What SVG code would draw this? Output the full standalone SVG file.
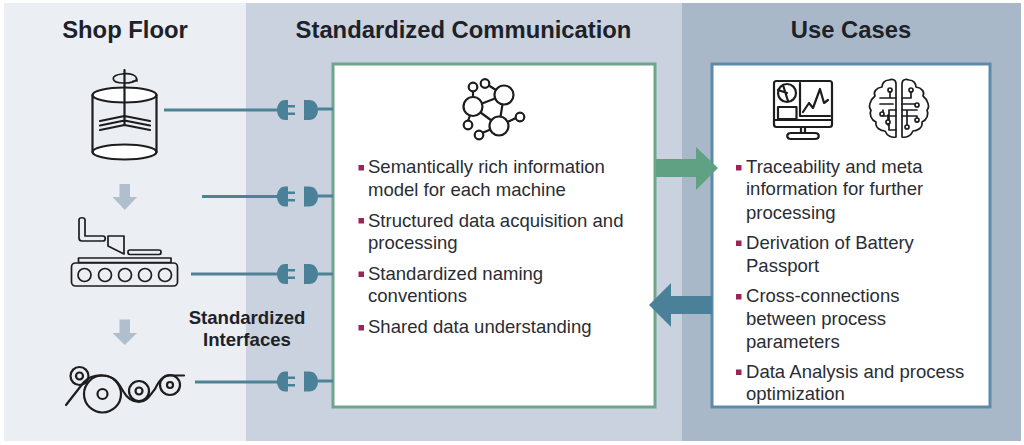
<svg xmlns="http://www.w3.org/2000/svg" xmlns:xlink="http://www.w3.org/1999/xlink" width="1024" height="445" viewBox="0 0 1024 445">
<style>
text{font-family:"Liberation Sans",Arial,sans-serif;fill:#1d2229}
.h{font-size:23.8px;font-weight:bold;text-anchor:middle}
.s{font-size:18.6px;font-weight:bold;text-anchor:middle}
.b{font-size:18.55px;fill:#2a2d33}
.bu{fill:#9a2556}
.ic{fill:none;stroke:#1d1d1f;stroke-width:2.2;stroke-linejoin:round;stroke-linecap:round}
.th{stroke-width:1.7}
.w{fill:#fff}
.f{fill:#fff}
.ln{fill:none;stroke:#4f8296;stroke-width:3.2}
.pl{fill:#4a8198}
.dn{fill:#b0bfcd}
</style>
<defs>
<g id="plug"><path class="pl" d="M288 -10H285C280 -10 277 -5 277 0C277 5 280 10 285 10H288V5H295V2.500H288V-2.500H295V-5H288Z"/><path class="pl" d="M304 -10H309C315 -10 318 -5 318 0C318 5 315 10 309 10H304Z"/></g>
</defs>
<rect width="1024" height="445" fill="#fff"/>
<g id="panels">
<rect x="4" y="3" width="242" height="438" fill="#ebeef2"/>
<rect x="246" y="3" width="436" height="438" fill="#c9d2de"/>
<rect x="682" y="3" width="339" height="438" fill="#a9b8c9"/>
</g>
<text class="h" x="125" y="38">Shop Floor</text>
<text class="h" x="463.500" y="38">Standardized Communication</text>
<text class="h" x="851" y="38">Use Cases</text>
<g id="tank" class="ic">
<ellipse class="w" cx="124.500" cy="95" rx="32" ry="7.500"/>
<ellipse class="w" cx="124.500" cy="152" rx="32" ry="7.500"/>
<path d="M92.500 95V152M156.500 95V152M124.500 70V125M100 121L124.500 116L150 121M100 125.500L124.500 120.500L150 125.500M100 130L124.500 125L150 130"/>
<path class="th" d="M122 74C110 75 110 83 124 83C131 83 136 81 137 79M122 74C127 73 133 74 135 76M133 81L137 81L136 77"/>
</g>
<path class="dn" d="M119.500 184H130V197H137L124.800 210L112.500 197H119.500Z"/>
<g id="machine" class="ic th">
<path d="M79 220C79 217 85 217 85 220V236H103C106 236 106 241 103 241H82C80 241 79 240 79 238Z"/>
<path d="M108 236H124V254L108 246Z"/>
<rect x="128" y="250" width="33" height="4.500" rx="2"/>
<path d="M78.500 258H171V262.500H78.500Z"/>
<rect x="71.500" y="263" width="106" height="23" rx="4"/>
<circle cx="84.500" cy="275" r="6.500"/><circle cx="105" cy="275" r="6.500"/><circle cx="125" cy="275" r="6.500"/><circle cx="145" cy="275" r="6.500"/><circle cx="165" cy="275" r="6.500"/>
</g>
<path class="dn" d="M119.500 319.500H130V333H137L124.800 345L112.500 333H119.500Z"/>
<g id="rollers" class="ic">
<circle cx="79.500" cy="376" r="9"/><circle cx="79.500" cy="376" r="3.500"/>
<circle cx="102.500" cy="394" r="18.500"/><circle cx="102.500" cy="394" r="5"/>
<circle cx="139" cy="391" r="10"/><circle cx="139" cy="391" r="3.500"/>
<circle cx="170" cy="385" r="10"/><circle cx="170" cy="385" r="3"/>
<path d="M66 405L84 382C89 377 96 375 103 375.500C115 376 119 384 123 391C127 398 133 402 139 402C147 402 150 395 155 389C159 381 163 375 171 375.500H184"/>
</g>
<text class="s" x="247" y="324">Standardized</text>
<text class="s" x="247" y="346">Interfaces</text>
<g id="communication">
<rect x="333" y="64" width="322" height="343" fill="#fff" stroke="#6ea58b" stroke-width="3"/>
<g class="ic">
<path d="M473 107L473 91M473 107L504 95L499 126L473 107M504 95L488 85M473 107L468 121M499 126L482 133M499 126L516 118"/>
<circle class="f" cx="473" cy="106.500" r="9.500"/><circle class="f" cx="504" cy="95" r="9.500"/><circle class="f" cx="499" cy="126" r="9.500"/>
<circle class="f" cx="473" cy="87" r="4.300"/><circle class="f" cx="485" cy="83.500" r="4.300"/><circle class="f" cx="468" cy="125" r="4.300"/><circle class="f" cx="479" cy="135" r="4.300"/><circle class="f" cx="520" cy="117" r="4.300"/>
</g>
<rect class="bu" x="358.500" y="165" width="5.500" height="5.500"/>
<rect class="bu" x="358.500" y="218" width="5.500" height="5.500"/>
<rect class="bu" x="358.500" y="271.500" width="5.500" height="5.500"/>
<rect class="bu" x="358.500" y="325" width="5.500" height="5.500"/>
<text class="b" x="368" y="173">Semantically rich information</text>
<text class="b" x="368" y="195.500">model for each machine</text>
<text class="b" x="368" y="226.500">Structured data acquisition and</text>
<text class="b" x="368" y="249">processing</text>
<text class="b" x="368" y="279.500">Standardized naming</text>
<text class="b" x="368" y="302">conventions</text>
<text class="b" x="368" y="332.500">Shared data understanding</text>
</g>
<g id="use-cases">
<rect x="712" y="64" width="278" height="343" fill="#fff" stroke="#5b8ba8" stroke-width="3"/>
<g class="ic">
<rect x="774" y="81" width="58" height="46" rx="2.500"/>
<path d="M774 120H832M800 83V116H830M803 112L809 103L813 108L820 89L824 103L828 100"/>
<circle cx="787" cy="93" r="9"/><path d="M783 85L788 101M787 93L778 90"/>
<rect x="778" y="107" width="18.500" height="12"/>
<path d="M801 127V133M805 127V133M791 139C786 139 786 133 791 133H815C820 133 820 139 815 139Z"/>
</g>
<g class="ic th">
<path d="M896 84C896 79 892 79 889 80C884 80 882 84 882 87C876 88 873 92 875 96C870 100 868 107 871 110C869 114 871 120 876 122C875 128 881 131 885 131C887 136 892 138 896 137ZM902 84C902 79 906 79 909 80C914 80 916 84 916 87C922 88 925 92 923 96C928 100 930 107 927 110C929 114 927 120 922 122C923 128 917 131 913 131C911 136 906 138 902 137Z"/>
<path d="M890 97V91M880 98H896M893 104H880M883 110V116H896M888 115V125M896 110H889V130H896M902 104H916M902 98H911V91M902 110H917M907 110V127M902 116H917V122"/>
<circle class="w" cx="890" cy="90" r="2"/><circle class="w" cx="911" cy="90" r="2"/><circle class="w" cx="882" cy="114" r="2"/><circle class="w" cx="888" cy="122" r="2"/><circle class="w" cx="917" cy="105" r="2"/><circle class="w" cx="917" cy="120" r="2"/><circle class="w" cx="907" cy="127" r="2"/>
</g>
<rect class="bu" x="736" y="165" width="5.500" height="5.500"/>
<rect class="bu" x="736" y="240.500" width="5.500" height="5.500"/>
<rect class="bu" x="736" y="294" width="5.500" height="5.500"/>
<rect class="bu" x="736" y="369.500" width="5.500" height="5.500"/>
<text class="b" x="746" y="172.500">Traceability and meta</text>
<text class="b" x="746" y="195">information for further</text>
<text class="b" x="746" y="218.500">processing</text>
<text class="b" x="746" y="249">Derivation of Battery</text>
<text class="b" x="746" y="271.500">Passport</text>
<text class="b" x="746" y="302">Cross-connections</text>
<text class="b" x="746" y="325">between process</text>
<text class="b" x="746" y="347.500">parameters</text>
<text class="b" x="746" y="377.500">Data Analysis and process</text>
<text class="b" x="746" y="400">optimization</text>
</g>
<g id="connectors">
<path class="ln" d="M164 110H278M202 196.500H278M191 274H278M195 382H278M318 109H333M318 196H333M318 274H333M318 381H333"/>
<use xlink:href="#plug" y="110"/><use xlink:href="#plug" y="196.500"/><use xlink:href="#plug" y="274"/><use xlink:href="#plug" y="381.500"/>
<path fill="#61a183" d="M656 159H696V147L718 168L696 190V177H656Z"/>
<path fill="#4a8198" d="M712 296H671V283L649 305L671 327V314H712Z"/>
</g>
</svg>
